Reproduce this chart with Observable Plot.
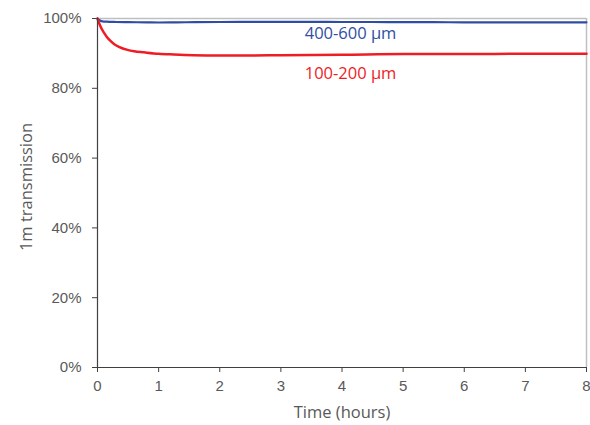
<!DOCTYPE html>
<html>
<head>
<meta charset="utf-8">
<script src="https://cdn.jsdelivr.net/npm/d3@7"></script>
<script src="https://cdn.jsdelivr.net/npm/@observablehq/plot@0.6"></script>
<style>
  html, body { margin: 0; padding: 0; background: #fff; }
</style>
</head>
<body>
<div id="chart"></div>
<script>
// Time (hours)
const blueTime = [0, 0.03, 0.08, 0.15, 0.3, 0.5, 0.8, 1.0, 1.3, 1.6, 2.0, 2.5, 3.0, 3.5, 4.0, 4.5, 5.0, 5.5, 6.0, 6.5, 7.0, 7.5, 8.0];
const blueValues = [100, 99.5, 99.2, 99.1, 99.0, 98.95, 98.9, 98.85, 98.9, 98.95, 99.0, 99.05, 99.05, 99.05, 99.0, 99.0, 98.95, 98.95, 98.9, 98.9, 98.9, 98.9, 98.9];
const redTime = [0, 0.03, 0.06, 0.1, 0.15, 0.2, 0.27, 0.35, 0.49, 0.6, 0.76, 1.0, 1.25, 1.57, 2.0, 2.5, 3.0, 4.0, 5.0, 6.0, 7.0, 8.0];
const redValues = [100, 98.5, 97.3, 96.1, 94.8, 93.8, 92.7, 91.9, 91.0, 90.6, 90.3, 89.9, 89.7, 89.5, 89.4, 89.4, 89.5, 89.6, 89.8, 89.8, 89.9, 89.9];
const seriesNames = ["400-600 µm", "100-200 µm"];
const seriesColors = ["#2f4ea3", "#ee1c25"];
const labelTimes = [4.14, 4.14];
const labelValues = [95.7, 84.2];
const xTicks = [0, 1, 2, 3, 4, 5, 6, 7, 8];
const yTicks = [0, 20, 40, 60, 80, 100];

const blue = blueTime.map((t, i) => ({t, v: blueValues[i]}));
const red = redTime.map((t, i) => ({t, v: redValues[i]}));
const labels = seriesNames.map((name, i) => ({name, t: labelTimes[i], v: labelValues[i], c: seriesColors[i]}));

const chart = Plot.plot({
  width: 590,
  height: 425,
  marginLeft: 97,
  marginRight: 4,
  marginTop: 18,
  marginBottom: 58,
  style: {fontFamily: "Liberation Sans, Arial, sans-serif", fontSize: "15px", color: "#595959", background: "#fff"},
  x: {domain: [0, 8], ticks: xTicks, tickSize: 5, tickPadding: 8, label: null},
  y: {domain: [0, 100], ticks: yTicks, tickSize: 5, tickPadding: 11, tickFormat: d => d + "%", label: null},
  marks: [
    Plot.ruleY([100], {stroke: "#bfbfbf", strokeWidth: 1.5}),
    Plot.ruleX([8], {stroke: "#bfbfbf", strokeWidth: 1.5}),
    Plot.line(blue, {x: "t", y: "v", stroke: seriesColors[0], strokeWidth: 2.2, curve: "monotone-x"}),
    Plot.line(red, {x: "t", y: "v", stroke: seriesColors[1], strokeWidth: 2.5, curve: "monotone-x"}),
    Plot.ruleY([0], {stroke: "#404040", strokeWidth: 1.2}),
    Plot.ruleX([0], {stroke: "#404040", strokeWidth: 1.2}),
    Plot.text(labels, {x: "t", y: "v", text: "name", fill: "c", fontSize: 16.5, fontFamily: "Open Sans, sans-serif", textAnchor: "middle"})
  ]
});

const svg = d3.select(chart);
svg.selectAll("[aria-label='x-axis tick'] path, [aria-label='y-axis tick'] path").attr("stroke", "#404040");
// axis titles
svg.append("text")
  .attr("x", 342).attr("y", 418)
  .attr("text-anchor", "middle")
  .attr("font-family", "Open Sans, sans-serif")
  .attr("font-size", 16.5)
  .attr("fill", "#595959")
  .text("Time (hours)");
svg.append("text")
  .attr("transform", "translate(32,187) rotate(-90)")
  .attr("text-anchor", "middle")
  .attr("font-family", "Open Sans, sans-serif")
  .attr("font-size", 16.5)
  .attr("fill", "#595959")
  .text("1m transmission");

document.getElementById("chart").appendChild(chart);
</script>
</body>
</html>
